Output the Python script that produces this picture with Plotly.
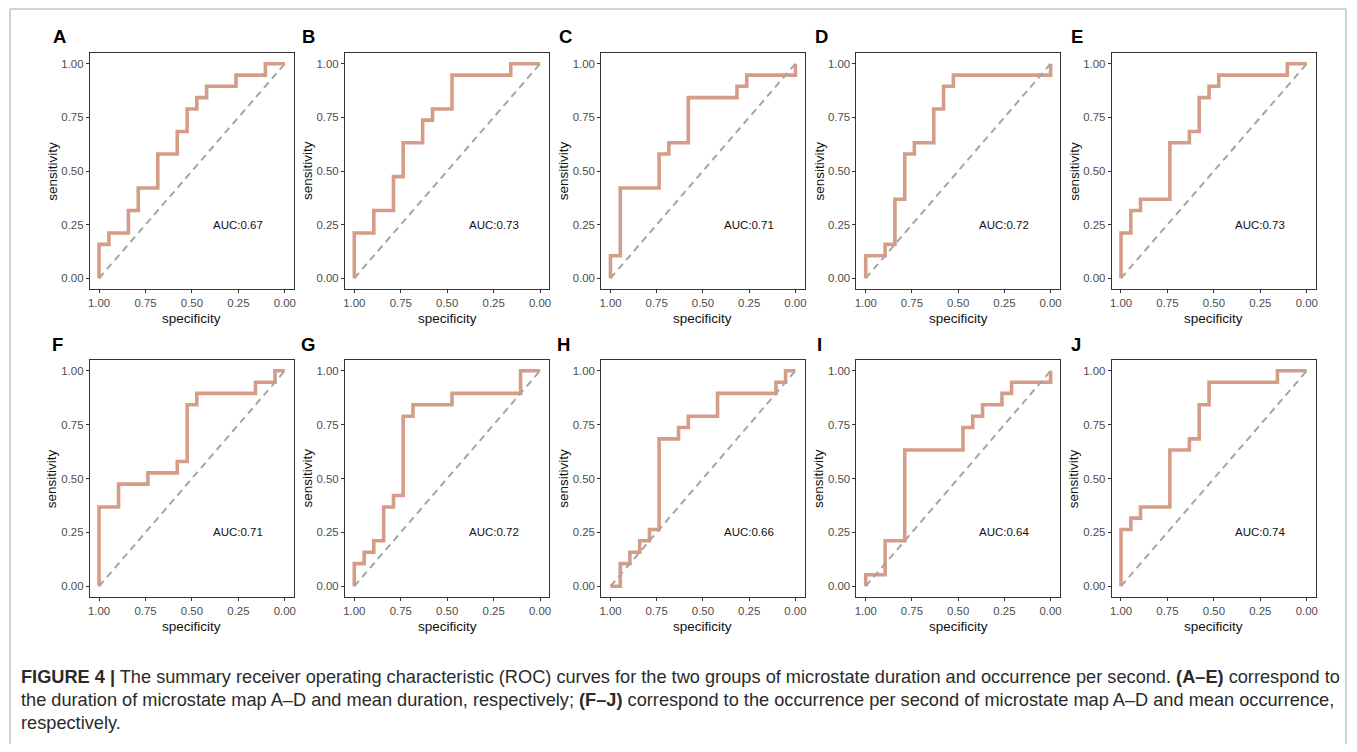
import plotly.graph_objects as go

# ---------------- data (ROC step corners: specificity, sensitivity) ----------------
panel_labels = ["A", "B", "C", "D", "E", "F", "G", "H", "I", "J"]
auc_labels = ["AUC:0.67", "AUC:0.73", "AUC:0.71", "AUC:0.72", "AUC:0.73",
              "AUC:0.71", "AUC:0.72", "AUC:0.66", "AUC:0.64", "AUC:0.74"]

spec_A = [1, 0.947, 0.842, 0.789, 0.684, 0.579, 0.526, 0.474, 0.421, 0.263, 0.105, 0]
sens_A = [0, 0.158, 0.211, 0.316, 0.421, 0.579, 0.684, 0.789, 0.842, 0.895, 0.947, 1]

spec_B = [1, 0.895, 0.789, 0.737, 0.632, 0.579, 0.474, 0.158, 0]
sens_B = [0, 0.211, 0.316, 0.474, 0.632, 0.737, 0.789, 0.947, 1]

spec_C = [1, 0.947, 0.737, 0.684, 0.579, 0.316, 0.263, 0, 0]
sens_C = [0, 0.105, 0.421, 0.579, 0.632, 0.842, 0.895, 0.947, 1]

spec_D = [1, 0.895, 0.842, 0.789, 0.737, 0.632, 0.579, 0.526, 0, 0]
sens_D = [0, 0.105, 0.158, 0.368, 0.579, 0.632, 0.789, 0.895, 0.947, 1]

spec_E = [1, 0.947, 0.895, 0.737, 0.632, 0.579, 0.526, 0.474, 0.105, 0]
sens_E = [0, 0.211, 0.316, 0.368, 0.632, 0.684, 0.842, 0.895, 0.947, 1]

spec_F = [1, 0.895, 0.737, 0.579, 0.526, 0.474, 0.158, 0.053, 0]
sens_F = [0, 0.368, 0.474, 0.526, 0.579, 0.842, 0.895, 0.947, 1]

spec_G = [1, 0.947, 0.895, 0.842, 0.789, 0.737, 0.684, 0.474, 0.105, 0]
sens_G = [0, 0.105, 0.158, 0.211, 0.368, 0.421, 0.789, 0.842, 0.895, 1]

spec_H = [1, 0.947, 0.895, 0.842, 0.789, 0.737, 0.632, 0.579, 0.421, 0.105, 0.053, 0]
sens_H = [0, 0, 0.105, 0.158, 0.211, 0.263, 0.684, 0.737, 0.789, 0.895, 0.947, 1]

spec_I = [1, 0.895, 0.789, 0.474, 0.421, 0.368, 0.263, 0.211, 0, 0]
sens_I = [0, 0.053, 0.211, 0.632, 0.737, 0.789, 0.842, 0.895, 0.947, 1]

spec_J = [1, 0.947, 0.895, 0.737, 0.632, 0.579, 0.526, 0.158, 0]
sens_J = [0, 0.263, 0.316, 0.368, 0.632, 0.684, 0.842, 0.947, 1]

diag_spec = [1, 0]
diag_sens = [0, 1]

tick_vals = [1.0, 0.75, 0.5, 0.25, 0.0]
tick_text_x = ["1.00", "0.75", "0.50", "0.25", "0.00"]
tick_vals_y = [0.0, 0.25, 0.5, 0.75, 1.0]
tick_text_y = ["0.00", "0.25", "0.50", "0.75", "1.00"]

caption_lines = [
    "<b>FIGURE 4 |</b> The summary receiver operating characteristic (ROC) curves for the two groups of microstate duration and occurrence per second. <b>(A–E)</b> correspond to",
    "the duration of microstate map A–D and mean duration, respectively; <b>(F–J)</b> correspond to the occurrence per second of microstate map A–D and mean occurrence,",
    "respectively.",
]

curves = [(spec_A, sens_A), (spec_B, sens_B), (spec_C, sens_C), (spec_D, sens_D), (spec_E, sens_E),
          (spec_F, sens_F), (spec_G, sens_G), (spec_H, sens_H), (spec_I, sens_I), (spec_J, sens_J)]

# ---------------- layout geometry (window pixels; page body has an 8px margin) ----------------
OX, OY = 8, 8
W, H = 1341, 736
box_left = [88, 344, 601, 857, 1113]
box_right = [293, 549, 805, 1061, 1318]
row_top = [53, 360]
row_bottom = [289, 597]
label_x = [[58, 307, 565, 822, 1078], [56, 307, 563, 820, 1077]]
label_y = [37, 345]


def px(xp):
    return (xp - OX) / W


def py(yp):
    return 1 - (yp - OY) / H


FONT = "Liberation Sans, Arial, Helvetica, sans-serif"
LINE_COLOR = "#D59C88"
AX_COLOR = "#333333"

fig = go.Figure()
annotations = []

for i, (spec, sens) in enumerate(curves):
    r, c = divmod(i, 5)
    n = i + 1
    xa = "x" if n == 1 else f"x{n}"
    ya = "y" if n == 1 else f"y{n}"
    fig.add_trace(go.Scatter(x=spec, y=sens, mode="lines", line=dict(color=LINE_COLOR, width=3.6, shape="vh"),
                             xaxis=xa, yaxis=ya, showlegend=False, hoverinfo="skip"))
    fig.add_trace(go.Scatter(x=diag_spec, y=diag_sens, mode="lines",
                             line=dict(color="#A5A5A5", width=2, dash="7px,5px"),
                             xaxis=xa, yaxis=ya, showlegend=False, hoverinfo="skip"))
    xd = [px(box_left[c]), px(box_right[c])]
    yd = [py(row_bottom[r]), py(row_top[r])]
    common = dict(showgrid=False, zeroline=False, showline=True, mirror=True, linecolor=AX_COLOR, linewidth=1,
                  ticks="outside", ticklen=3, tickcolor=AX_COLOR, tickwidth=1,
                  tickfont=dict(family=FONT, size=11.4, color="#4D4D4D"), fixedrange=True)
    fig.update_layout(**{
        ("xaxis" if n == 1 else f"xaxis{n}"): dict(domain=xd, range=[1.05, -0.05], tickvals=tick_vals,
                                                   ticktext=tick_text_x, anchor=ya, **common),
        ("yaxis" if n == 1 else f"yaxis{n}"): dict(domain=yd, range=[-0.05, 1.05], tickvals=tick_vals_y,
                                                   ticktext=tick_text_y, anchor=xa, **common),
    })
    # AUC text
    annotations.append(dict(x=0.25, y=0.25, xref=xa, yref=ya, text=auc_labels[i], showarrow=False,
                            font=dict(family=FONT, size=11.5, color="#111111"), xanchor="center", yanchor="middle"))
    # axis titles
    cx = (box_left[c] + box_right[c]) / 2
    cy = (row_top[r] + row_bottom[r]) / 2
    annotations.append(dict(x=px(cx), y=py(row_bottom[r] + 29), xref="paper", yref="paper",
                            text="specificity", showarrow=False, font=dict(family=FONT, size=13.5, color="#111111"),
                            xanchor="center", yanchor="middle"))
    annotations.append(dict(x=px(box_left[c] - 38), y=py(cy), xref="paper", yref="paper",
                            text="sensitivity", showarrow=False, textangle=-90,
                            font=dict(family=FONT, size=13.5, color="#111111"), xanchor="center", yanchor="middle"))
    # panel label
    annotations.append(dict(x=px(label_x[r][c]), y=py(label_y[r]), xref="paper", yref="paper",
                            text=f"<b>{panel_labels[i]}</b>", showarrow=False,
                            font=dict(family=FONT, size=18.5, color="#000000"), xanchor="center", yanchor="middle"))

cap_y = [677, 700, 723]
for k, line in enumerate(caption_lines):
    annotations.append(dict(x=px(17), y=py(cap_y[k]), xref="paper", yref="paper", text=line, showarrow=False,
                            font=dict(family=FONT, size=18.2, color="#2A2A2A"), xanchor="left", yanchor="middle"))

fig.update_layout(
    width=W, height=H, margin=dict(l=0, r=0, t=0, b=0),
    paper_bgcolor="white", plot_bgcolor="white",
    annotations=annotations,
    shapes=[dict(type="rect", xref="paper", yref="paper", x0=px(8), x1=px(1348), y0=-0.05, y1=py(9),
                 line=dict(color="#A8A8A8", width=1), layer="below")],
)

fig.write_html("out.html")
